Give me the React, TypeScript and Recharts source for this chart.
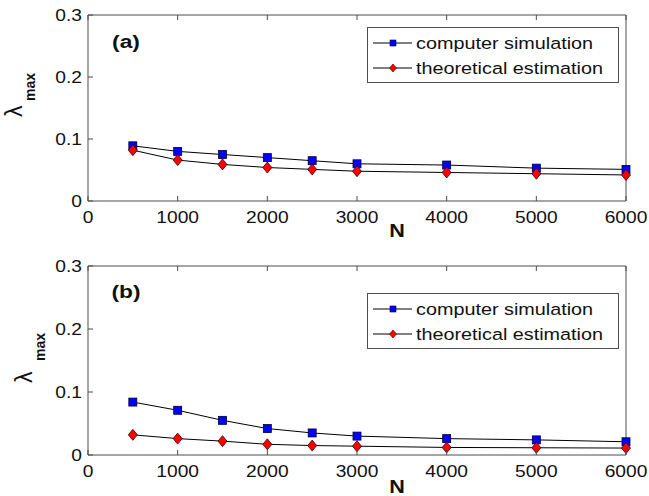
import React from "react";
import { Legend, Line, LineChart, XAxis, YAxis } from "recharts";

const nValues = [500, 1000, 1500, 2000, 2500, 3000, 4000, 5000, 6000];
const simA = [0.089, 0.08, 0.075, 0.07, 0.065, 0.06, 0.058, 0.053, 0.051];
const theoA = [0.082, 0.066, 0.059, 0.054, 0.051, 0.048, 0.046, 0.044, 0.042];
const simB = [0.084, 0.071, 0.055, 0.042, 0.035, 0.03, 0.026, 0.024, 0.021];
const theoB = [0.032, 0.026, 0.022, 0.017, 0.015, 0.014, 0.012, 0.0115, 0.011];
const xTicks = [0, 1000, 2000, 3000, 4000, 5000, 6000];
const yTicks = [0, 0.1, 0.2, 0.3];
const seriesNames = ["computer simulation", "theoretical estimation"];

const FONT = '"Liberation Sans", Arial, Helvetica, sans-serif';
const FRAME = "#4d4d4d";
const SX = 1.2; // the figure's text is a bit wide

const fmtY = (v: number) => (v === 0 ? "0" : v.toFixed(1));

function LeftTick(props: any) {
  const { x, y, payload } = props;
  return (
    <g>
      <line x1={x} x2={x + 5} y1={y} y2={y} stroke={FRAME} />
      <text
        transform={`translate(${x - 6},${y + 5.8}) scale(${SX},1)`}
        textAnchor="end"
        fontSize={16}
        fontFamily={FONT}
        fill="#111"
      >
        {fmtY(payload.value)}
      </text>
    </g>
  );
}

function BottomTick(props: any) {
  const { x, y, payload } = props;
  return (
    <g>
      <line x1={x} x2={x} y1={y} y2={y - 5} stroke={FRAME} />
      <text
        transform={`translate(${x},${y + 22}) scale(${SX},1)`}
        textAnchor="middle"
        fontSize={16}
        fontFamily={FONT}
        fill="#111"
      >
        {payload.value}
      </text>
    </g>
  );
}

function TopTick(props: any) {
  const { x, y } = props;
  return <line x1={x} x2={x} y1={y} y2={y + 5} stroke={FRAME} />;
}

function RightTick(props: any) {
  const { x, y } = props;
  return <line x1={x} x2={x - 5} y1={y} y2={y} stroke={FRAME} />;
}

function PlotText(props: any) {
  const { px, py, size, bold, text } = props;
  return (
    <text
      transform={`translate(${px},${py}) scale(${SX},1)`}
      textAnchor="middle"
      fontSize={size}
      fontWeight={bold ? "bold" : "normal"}
      fontFamily={FONT}
      fill="#111"
    >
      {text}
    </text>
  );
}

function YTitle(props: any) {
  const { lx, ly, mx, my } = props;
  return (
    <g fontFamily={FONT} fill="#111">
      <text transform={`translate(${lx},${ly}) rotate(-90)`} fontSize={23}>
        λ
      </text>
      <text
        transform={`translate(${mx},${my}) rotate(-90)`}
        fontSize={14}
        fontWeight="bold"
      >
        max
      </text>
    </g>
  );
}

function Square(props: any) {
  const { cx, cy, index } = props;
  return (
    <rect
      key={`sq-${index}`}
      x={cx - 4}
      y={cy - 4}
      width={8}
      height={8}
      fill="#0000ff"
      stroke="#00003a"
      strokeWidth={0.8}
    />
  );
}

function Diamond(props: any) {
  const { cx, cy, index } = props;
  return (
    <path
      key={`dm-${index}`}
      d={`M${cx},${cy - 5.5}L${cx + 4.5},${cy}L${cx},${cy + 5.5}L${cx - 4.5},${cy}Z`}
      fill="#ff0000"
      stroke="#3a0000"
      strokeWidth={0.8}
    />
  );
}

function LegendBox() {
  const rows = [
    { name: seriesNames[0], y: 16, marker: "sq" },
    { name: seriesNames[1], y: 41, marker: "dm" },
  ];
  return (
    <svg width={252} height={56} style={{ display: "block" }}>
      <rect x={0.5} y={0.5} width={251} height={55} fill="#fff" stroke={FRAME} />
      {rows.map((r) => (
        <g key={r.name}>
          <line x1={6} x2={45} y1={r.y} y2={r.y} stroke="#000" />
          {r.marker === "sq" ? (
            <rect x={23} y={r.y - 3} width={6} height={6} fill="#0000ff" stroke="#00003a" strokeWidth={0.6} />
          ) : (
            <path
              d={`M26,${r.y - 4}L29.5,${r.y}L26,${r.y + 4}L22.5,${r.y}Z`}
              fill="#ff0000"
              stroke="#3a0000"
              strokeWidth={0.6}
            />
          )}
          <text
            transform={`translate(49,${r.y + 6}) scale(${SX},1)`}
            fontSize={16.5}
            fontFamily={FONT}
            fill="#111"
          >
            {r.name}
          </text>
        </g>
      ))}
    </svg>
  );
}

function Panel(props: any) {
  const { sim, theo, height, margin, tag, tagY, legendTop, nY, lambda } = props;
  const rows = nValues.map((n, i) => ({ n, sim: sim[i], theo: theo[i] }));
  return (
    <LineChart width={649} height={height} data={rows} margin={margin}>
      <XAxis
        dataKey="n"
        type="number"
        domain={[0, 6000]}
        ticks={xTicks}
        interval={0}
        height={40}
        tickSize={0}
        tickMargin={0}
        tickLine={false}
        axisLine={{ stroke: FRAME }}
        tick={<BottomTick />}
        label={<PlotText px={397} py={nY} size={18} bold text="N" />}
      />
      <XAxis
        xAxisId="top"
        orientation="top"
        dataKey="n"
        type="number"
        domain={[0, 6000]}
        ticks={xTicks}
        interval={0}
        height={1}
        tickSize={0}
        tickMargin={0}
        tickLine={false}
        axisLine={{ stroke: FRAME }}
        tick={<TopTick />}
        label={<PlotText px={126} py={tagY} size={19} bold text={tag} />}
      />
      <YAxis
        type="number"
        domain={[0, 0.3]}
        ticks={yTicks}
        interval={0}
        width={60}
        tickSize={0}
        tickMargin={0}
        tickLine={false}
        axisLine={{ stroke: FRAME }}
        tick={<LeftTick />}
        label={<YTitle {...lambda} />}
      />
      <YAxis
        yAxisId="right"
        orientation="right"
        type="number"
        domain={[0, 0.3]}
        ticks={yTicks}
        interval={0}
        width={1}
        tickSize={0}
        tickMargin={0}
        tickLine={false}
        axisLine={{ stroke: FRAME }}
        tick={<RightTick />}
      />
      <Legend
        layout="horizontal"
        verticalAlign="middle"
        align="center"
        wrapperStyle={{ left: 367, top: legendTop, width: 252, height: 56 }}
        content={() => <LegendBox />}
      />
      <Line
        type="linear"
        dataKey="sim"
        name={seriesNames[0]}
        stroke="#000"
        strokeWidth={1}
        dot={(p: any) => <Square {...p} />}
        isAnimationActive={false}
      />
      <Line
        type="linear"
        dataKey="theo"
        name={seriesNames[1]}
        stroke="#000"
        strokeWidth={1}
        dot={(p: any) => <Diamond {...p} />}
        isAnimationActive={false}
      />
    </LineChart>
  );
}

export default function App() {
  return (
    <div
      style={{
        position: "absolute",
        left: 0,
        top: 0,
        width: 649,
        height: 496,
        background: "#fff",
      }}
    >
      <div style={{ position: "absolute", left: 0, top: 0 }}>
        <Panel
          sim={simA}
          theo={theoA}
          height={250}
          margin={{ top: 14, right: 22, bottom: 9, left: 28 }}
          tag="(a)"
          tagY={47.5}
          legendTop={27}
          nY={236.5}
          lambda={{ lx: 22, ly: 117, mx: 35, my: 101 }}
        />
      </div>
      <div style={{ position: "absolute", left: 0, top: 250 }}>
        <Panel
          sim={simB}
          theo={theoB}
          height={246}
          margin={{ top: 15, right: 22, bottom: 1, left: 28 }}
          tag="(b)"
          tagY={48}
          legendTop={43}
          nY={242.5}
          lambda={{ lx: 32, ly: 133, mx: 45, my: 111 }}
        />
      </div>
    </div>
  );
}
